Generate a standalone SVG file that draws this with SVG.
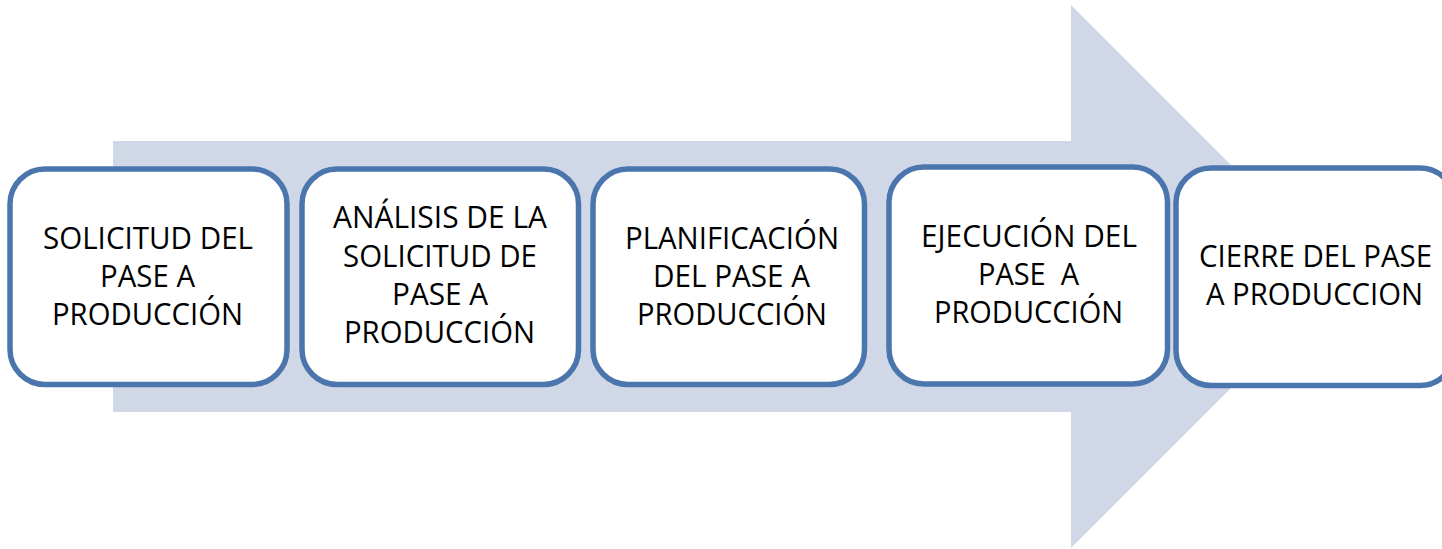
<svg xmlns="http://www.w3.org/2000/svg" width="1442" height="549" viewBox="0 0 1442 549">
<style>
.box{fill:#FFFFFF;stroke:#4A76AD;stroke-width:5.5}
.t{font-family:"Open Sans","Liberation Sans",sans-serif;font-size:31px;fill:#000000}
</style>
<rect width="1442" height="549" fill="#FFFFFF"/>
<g id="arrow">
<polygon points="113,141 1071,141 1071,5 1342.5,276.5 1071,548 1071,412 113,412" fill="#D0D8E8"/>
</g>
<g id="connectors"></g>
<g id="node1">
<rect class="box" x="10" y="169" width="277" height="215.5" rx="35" ry="35"/>
<text class="t" x="43" y="249" textLength="210" lengthAdjust="spacingAndGlyphs">SOLICITUD DEL</text>
<text class="t" x="100" y="287" textLength="95" lengthAdjust="spacingAndGlyphs">PASE A</text>
<text class="t" x="52" y="325" textLength="191" lengthAdjust="spacingAndGlyphs">PRODUCCIÓN</text>
</g>
<g id="node2">
<rect class="box" x="302" y="169" width="276.5" height="215.5" rx="35" ry="35"/>
<text class="t" x="333" y="228" textLength="214" lengthAdjust="spacingAndGlyphs">ANÁLISIS DE LA</text>
<text class="t" x="343" y="267" textLength="194" lengthAdjust="spacingAndGlyphs">SOLICITUD DE</text>
<text class="t" x="392" y="305" textLength="96" lengthAdjust="spacingAndGlyphs">PASE A</text>
<text class="t" x="344" y="343" textLength="191" lengthAdjust="spacingAndGlyphs">PRODUCCIÓN</text>
</g>
<g id="node3">
<rect class="box" x="593" y="169" width="271.5" height="215.5" rx="35" ry="35"/>
<text class="t" x="625" y="249" textLength="214" lengthAdjust="spacingAndGlyphs">PLANIFICACIÓN</text>
<text class="t" x="653" y="287" textLength="157" lengthAdjust="spacingAndGlyphs">DEL PASE A</text>
<text class="t" x="637" y="325" textLength="190" lengthAdjust="spacingAndGlyphs">PRODUCCIÓN</text>
</g>
<g id="node4">
<rect class="box" x="889" y="167" width="278.5" height="217" rx="35" ry="35"/>
<text class="t" x="921" y="247" textLength="216" lengthAdjust="spacingAndGlyphs">EJECUCIÓN DEL</text>
<text class="t" x="978" y="285" textLength="101" lengthAdjust="spacingAndGlyphs" xml:space="preserve">PASE  A</text>
<text class="t" x="934" y="323" textLength="189" lengthAdjust="spacingAndGlyphs">PRODUCCIÓN</text>
</g>
<g id="node5">
<rect class="box" x="1176" y="168" width="279" height="217.5" rx="35" ry="35"/>
<text class="t" x="1199" y="267" textLength="233" lengthAdjust="spacingAndGlyphs">CIERRE DEL PASE</text>
<text class="t" x="1206" y="305" textLength="217" lengthAdjust="spacingAndGlyphs">A PRODUCCION</text>
</g>
</svg>
